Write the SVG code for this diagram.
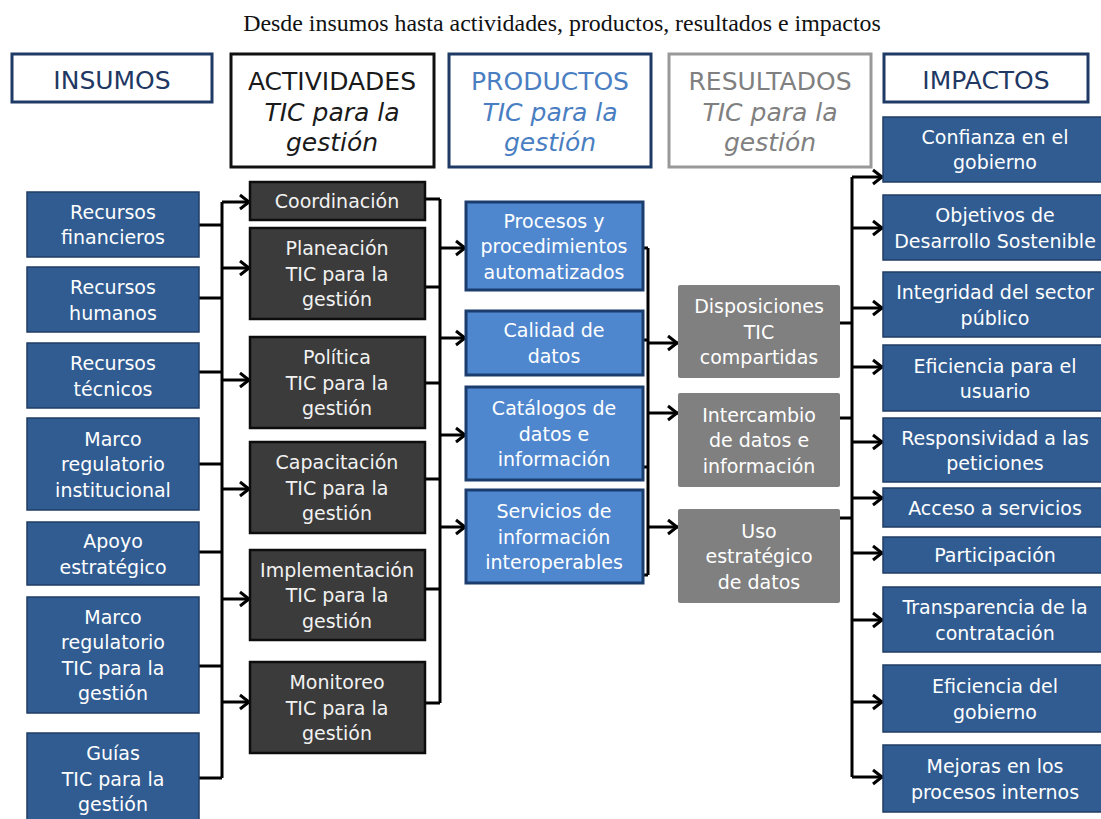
<svg xmlns="http://www.w3.org/2000/svg" width="1101" height="819" viewBox="0 0 1101 819">
  <style>
    .title { font-family: "Liberation Serif", "Times New Roman", serif; font-size: 23.9px; fill: #111; }
    .hd { font-family: "DejaVu Sans", Verdana, sans-serif; font-size: 25px; text-anchor: middle; }
    .hd .it { font-style: italic; }
    .hbox { fill: #fff; stroke-width: 3; }
    .navy { stroke: #1f3a64; }
    .t { font-family: "DejaVu Sans", Verdana, sans-serif; font-size: 19px; text-anchor: middle; fill: #fff; }
    .ins rect, .imp rect { fill: #305c92; stroke: #1f3c64; stroke-width: 1.5; }
    .act rect { fill: #3b3b3b; stroke: #0d0d0d; stroke-width: 2.5; }
    .act text { fill: #f2f2f2; }
    .prd rect { fill: #4f87cf; stroke: #1b3d6d; stroke-width: 3; }
    .res rect { fill: #808080; }
    .wire { fill: none; stroke: #000; stroke-width: 3; }
    .arr { marker-end: url(#chev); }
  </style>
  <defs>
    <marker id="chev" markerUnits="userSpaceOnUse" markerWidth="16" markerHeight="18" refX="13" refY="8" orient="auto" overflow="visible">
      <path d="M3,1 L12,8 L3,15" fill="none" stroke="#000" stroke-width="3"/>
    </marker>
  </defs>

  <text class="title" x="562" y="31" text-anchor="middle">Desde insumos hasta actividades, productos, resultados e impactos</text>

  <!-- column headers -->
  <g id="hdr-insumos">
    <rect class="hbox navy" x="12" y="54" width="200" height="48"/>
    <text class="hd" x="112" y="89" fill="#1f3864">INSUMOS</text>
  </g>
  <g id="hdr-actividades">
    <rect class="hbox" stroke="#111" x="231" y="54" width="203" height="113"/>
    <text class="hd" x="332" y="90" fill="#1a1a1a">ACTIVIDADES</text>
    <text class="hd" x="332" y="121" fill="#1a1a1a"><tspan class="it">TIC para la</tspan></text>
    <text class="hd" x="332" y="151" fill="#1a1a1a"><tspan class="it">gestión</tspan></text>
  </g>
  <g id="hdr-productos">
    <rect class="hbox navy" x="449" y="54" width="202" height="113"/>
    <text class="hd" x="550" y="90" fill="#4a7ec2">PRODUCTOS</text>
    <text class="hd" x="550" y="121" fill="#4a7ec2"><tspan class="it">TIC para la</tspan></text>
    <text class="hd" x="550" y="151" fill="#4a7ec2"><tspan class="it">gestión</tspan></text>
  </g>
  <g id="hdr-resultados">
    <rect class="hbox" stroke="#999" x="669" y="54" width="202" height="113"/>
    <text class="hd" x="770" y="90" fill="#808080">RESULTADOS</text>
    <text class="hd" x="770" y="121" fill="#808080"><tspan class="it">TIC para la</tspan></text>
    <text class="hd" x="770" y="151" fill="#808080"><tspan class="it">gestión</tspan></text>
  </g>
  <g id="hdr-impactos">
    <rect class="hbox navy" x="884" y="54" width="204" height="48"/>
    <text class="hd" x="986" y="89" fill="#1f3864">IMPACTOS</text>
  </g>

  <!-- connectors -->
  <g id="connectors" class="wire">
    <!-- inputs to activities -->
    <path d="M199,225 H222 M199,298 H222 M199,372 H222 M199,464 H222 M199,552 H222 M199,666 H222 M199,778 H222 M222,778 V202"/>
    <path class="arr" d="M222,202 H250"/>
    <path class="arr" d="M222,268 H250"/>
    <path class="arr" d="M222,380 H250"/>
    <path class="arr" d="M222,489 H250"/>
    <path class="arr" d="M222,599 H250"/>
    <path class="arr" d="M222,702 H250"/>
    <!-- activities to products -->
    <path d="M425,199 H440 M425,287 H440 M425,383 H440 M425,479 H440 M425,589 H440 M425,703 H440 M440,199 V703"/>
    <path class="arr" d="M440,248 H466"/>
    <path class="arr" d="M440,338 H466"/>
    <path class="arr" d="M440,435 H466"/>
    <path class="arr" d="M440,527 H466"/>
    <!-- products to results -->
    <path d="M643,248 H648 M643,340 H648 M643,467 H648 M643,575 H648 M648,248 V575"/>
    <path class="arr" d="M648,343 H678"/>
    <path class="arr" d="M648,413 H678"/>
    <path class="arr" d="M648,527 H678"/>
    <!-- results to impacts -->
    <path d="M840,323 H852 M840,418 H852 M840,518 H852 M852,177 V777"/>
    <path class="arr" d="M852,177 H883"/>
    <path class="arr" d="M852,228 H883"/>
    <path class="arr" d="M852,308 H883"/>
    <path class="arr" d="M852,367 H883"/>
    <path class="arr" d="M852,442 H883"/>
    <path class="arr" d="M852,498 H883"/>
    <path class="arr" d="M852,553 H883"/>
    <path class="arr" d="M852,620 H883"/>
    <path class="arr" d="M852,702 H883"/>
    <path class="arr" d="M852,777 H883"/>
  </g>

  <!-- inputs -->
  <g class="ins">
    <g id="in-financieros"><rect x="27" y="192" width="172" height="65"/><text class="t" x="113" y="219">Recursos</text><text class="t" x="113" y="244">financieros</text></g>
    <g id="in-humanos"><rect x="27" y="267" width="172" height="65"/><text class="t" x="113" y="294">Recursos</text><text class="t" x="113" y="320">humanos</text></g>
    <g id="in-tecnicos"><rect x="27" y="343" width="172" height="65"/><text class="t" x="113" y="370">Recursos</text><text class="t" x="113" y="396">técnicos</text></g>
    <g id="in-marco-inst"><rect x="27" y="418" width="172" height="92"/><text class="t" x="113" y="446">Marco</text><text class="t" x="113" y="471">regulatorio</text><text class="t" x="113" y="497">institucional</text></g>
    <g id="in-apoyo"><rect x="27" y="522" width="172" height="63"/><text class="t" x="113" y="548">Apoyo</text><text class="t" x="113" y="574">estratégico</text></g>
    <g id="in-marco-tic"><rect x="27" y="597" width="172" height="116"/><text class="t" x="113" y="624">Marco</text><text class="t" x="113" y="649">regulatorio</text><text class="t" x="113" y="675">TIC para la</text><text class="t" x="113" y="700">gestión</text></g>
    <g id="in-guias"><rect x="27" y="733" width="172" height="92"/><text class="t" x="113" y="760">Guías</text><text class="t" x="113" y="786">TIC para la</text><text class="t" x="113" y="811">gestión</text></g>
  </g>

  <!-- activities -->
  <g class="act">
    <g id="act-coordinacion"><rect x="250" y="182" width="175" height="38"/><text class="t" x="337" y="208">Coordinación</text></g>
    <g id="act-planeacion"><rect x="250" y="228" width="175" height="91"/><text class="t" x="337" y="255">Planeación</text><text class="t" x="337" y="281">TIC para la</text><text class="t" x="337" y="306">gestión</text></g>
    <g id="act-politica"><rect x="250" y="337" width="175" height="91"/><text class="t" x="337" y="364">Política</text><text class="t" x="337" y="390">TIC para la</text><text class="t" x="337" y="415">gestión</text></g>
    <g id="act-capacitacion"><rect x="250" y="442" width="175" height="91"/><text class="t" x="337" y="469">Capacitación</text><text class="t" x="337" y="495">TIC para la</text><text class="t" x="337" y="520">gestión</text></g>
    <g id="act-implementacion"><rect x="250" y="550" width="175" height="90"/><text class="t" x="337" y="577">Implementación</text><text class="t" x="337" y="602">TIC para la</text><text class="t" x="337" y="628">gestión</text></g>
    <g id="act-monitoreo"><rect x="250" y="662" width="175" height="91"/><text class="t" x="337" y="689">Monitoreo</text><text class="t" x="337" y="715">TIC para la</text><text class="t" x="337" y="740">gestión</text></g>
  </g>

  <!-- products -->
  <g class="prd">
    <g id="prd-procesos"><rect x="466" y="202" width="177" height="88"/><text class="t" x="554" y="228">Procesos y</text><text class="t" x="554" y="253">procedimientos</text><text class="t" x="554" y="279">automatizados</text></g>
    <g id="prd-calidad"><rect x="466" y="311" width="177" height="64"/><text class="t" x="554" y="337">Calidad de</text><text class="t" x="554" y="363">datos</text></g>
    <g id="prd-catalogos"><rect x="466" y="387" width="177" height="93"/><text class="t" x="554" y="415">Catálogos de</text><text class="t" x="554" y="441">datos e</text><text class="t" x="554" y="466">información</text></g>
    <g id="prd-servicios"><rect x="466" y="490" width="177" height="93"/><text class="t" x="554" y="518">Servicios de</text><text class="t" x="554" y="544">información</text><text class="t" x="554" y="569">interoperables</text></g>
  </g>

  <!-- results -->
  <g class="res">
    <g id="res-disposiciones"><rect x="678" y="285" width="162" height="93" rx="2"/><text class="t" x="759" y="313">Disposiciones</text><text class="t" x="759" y="339">TIC</text><text class="t" x="759" y="364">compartidas</text></g>
    <g id="res-intercambio"><rect x="678" y="393" width="162" height="94" rx="2"/><text class="t" x="759" y="422">Intercambio</text><text class="t" x="759" y="447">de datos e</text><text class="t" x="759" y="473">información</text></g>
    <g id="res-uso"><rect x="678" y="509" width="162" height="94" rx="2"/><text class="t" x="759" y="538">Uso</text><text class="t" x="759" y="563">estratégico</text><text class="t" x="759" y="589">de datos</text></g>
  </g>

  <!-- impacts -->
  <g class="imp">
    <g id="imp-confianza"><rect x="883" y="117" width="224" height="65"/><text class="t" x="995" y="144">Confianza en el</text><text class="t" x="995" y="169">gobierno</text></g>
    <g id="imp-ods"><rect x="883" y="195" width="224" height="65"/><text class="t" x="995" y="222">Objetivos de</text><text class="t" x="995" y="248">Desarrollo Sostenible</text></g>
    <g id="imp-integridad"><rect x="883" y="272" width="224" height="65"/><text class="t" x="995" y="299">Integridad del sector</text><text class="t" x="995" y="325">público</text></g>
    <g id="imp-eficiencia-usuario"><rect x="883" y="345" width="224" height="66"/><text class="t" x="995" y="373">Eficiencia para el</text><text class="t" x="995" y="398">usuario</text></g>
    <g id="imp-responsividad"><rect x="883" y="418" width="224" height="64"/><text class="t" x="995" y="445">Responsividad a las</text><text class="t" x="995" y="470">peticiones</text></g>
    <g id="imp-acceso"><rect x="883" y="488" width="224" height="39"/><text class="t" x="995" y="515">Acceso a servicios</text></g>
    <g id="imp-participacion"><rect x="883" y="537" width="224" height="36"/><text class="t" x="995" y="562">Participación</text></g>
    <g id="imp-transparencia"><rect x="883" y="587" width="224" height="65"/><text class="t" x="995" y="614">Transparencia de la</text><text class="t" x="995" y="640">contratación</text></g>
    <g id="imp-eficiencia-gobierno"><rect x="883" y="665" width="224" height="67"/><text class="t" x="995" y="693">Eficiencia del</text><text class="t" x="995" y="719">gobierno</text></g>
    <g id="imp-mejoras"><rect x="883" y="745" width="224" height="67"/><text class="t" x="995" y="773">Mejoras en los</text><text class="t" x="995" y="799">procesos internos</text></g>
  </g>
</svg>
